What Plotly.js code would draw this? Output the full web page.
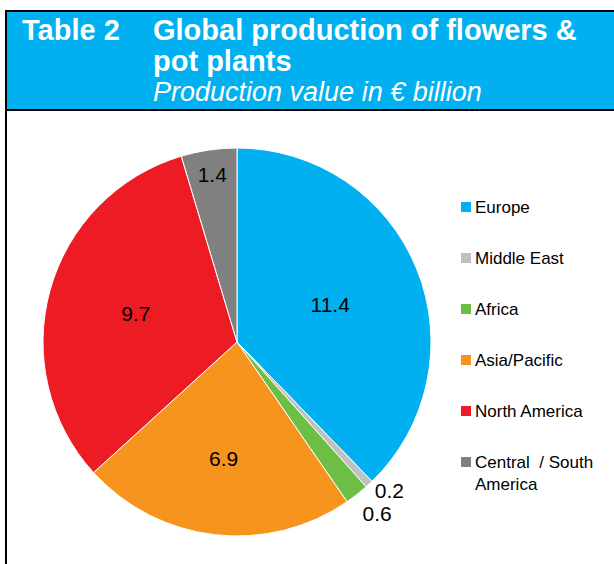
<!DOCTYPE html>
<html>
<head>
<meta charset="utf-8">
<script src="https://cdn.plot.ly/plotly-3.0.1.min.js"></script>
<style>
  html, body { margin: 0; padding: 0; background: #fff; }
  #chart { width: 614px; height: 564px; }
  /* the reference has no leader lines on the outside labels */
  path.textline { stroke-opacity: 0 !important; }
</style>
</head>
<body>
<div id="chart"></div>
<script>
// data
const regions = ['Europe', 'Middle East', 'Africa', 'Asia/Pacific', 'North America', 'Central  / South<br>America'];
const values = [11.4, 0.2, 0.6, 6.9, 9.7, 1.4];
const colors = ['#00B0F0', '#C0C0C0', '#6DBE45', '#F7941D', '#ED1C24', '#808080'];
const textPos = ['inside', 'outside', 'outside', 'inside', 'inside', 'inside'];

const W = 614, H = 564;
const px = x => x / W;
const py = y => 1 - y / H;
const FONT = 'Liberation Sans, Arial, sans-serif';

const pie = {
  type: 'pie',
  values: values,
  labels: regions,
  sort: false,
  direction: 'clockwise',
  rotation: 0,
  marker: { colors: colors, line: { color: '#ffffff', width: 1 } },
  texttemplate: '%{value:.1f}',
  textposition: textPos,
  insidetextorientation: 'horizontal',
  textfont: { family: FONT, size: 21, color: '#000' },
  outsidetextfont: { family: FONT, size: 21, color: '#000' },
  hoverinfo: 'label+value',
  showlegend: false,
  domain: { x: [px(43), px(431)], y: [py(536), py(148)] }
};

const shapes = [
  // header band
  { type: 'rect', xref: 'paper', yref: 'paper', x0: px(6), x1: px(640), y0: py(110), y1: py(11),
    fillcolor: '#00B0F0', line: { color: '#000', width: 2 } },
  // left frame line
  { type: 'line', xref: 'paper', yref: 'paper', x0: px(6), x1: px(6), y0: py(110), y1: py(580),
    line: { color: '#000', width: 2 } }
];

const annotations = [
  { text: '<b>Table 2</b>', x: px(20), y: py(30), size: 29 },
  { text: '<b>Global production of flowers &amp;</b>', x: px(151), y: py(30), size: 29 },
  { text: '<b>pot plants</b>', x: px(151), y: py(61), size: 29 },
  { text: '<i>Production value in € billion</i>', x: px(151), y: py(92), size: 27 }
].map(a => ({
  text: a.text, x: a.x, y: a.y,
  xref: 'paper', yref: 'paper', xanchor: 'left', yanchor: 'middle', showarrow: false,
  font: { family: FONT, size: a.size, color: '#fff' }
}));

// hand-built legend, spaced like the reference
regions.forEach((name, i) => {
  const yc = 207 + i * 51;
  shapes.push({ type: 'rect', xref: 'paper', yref: 'paper',
    x0: px(461), x1: px(471), y0: py(yc + 5), y1: py(yc - 5),
    fillcolor: colors[i], line: { width: 0 } });
  annotations.push({ text: name, x: px(473), y: py(yc - 11), xref: 'paper', yref: 'paper',
    xanchor: 'left', yanchor: 'top', align: 'left', showarrow: false,
    font: { family: FONT, size: 17, color: '#000' } });
});

const layout = {
  width: W,
  height: H,
  margin: { l: 0, r: 0, t: 0, b: 0 },
  paper_bgcolor: '#fff',
  showlegend: false,
  shapes: shapes,
  annotations: annotations
};

Plotly.newPlot('chart', [pie], layout, { displayModeBar: false, staticPlot: true });
</script>
</body>
</html>
